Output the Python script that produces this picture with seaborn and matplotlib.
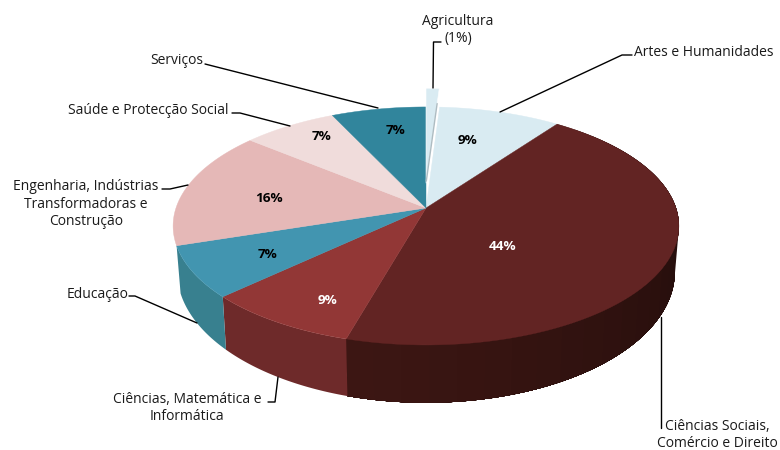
import numpy as np
import matplotlib
matplotlib.use("Agg")
import matplotlib.pyplot as plt
import seaborn as sns

areas = ["Agricultura", "Artes e Humanidades", "Ciências Sociais", "Ciências Matemática",
         "Educação", "Engenharia", "Saúde", "Serviços"]
shares = [1, 9, 44.4, 8.6, 7, 16, 7, 7]
top_colors = ["#d9ebf2", "#d9ebf2", "#622423", "#923736", "#4295b0", "#e5b8b7", "#f0dcdb", "#31859c"]
side_colors = [None, None, "#260e0c", "#6e2a2a", "#38808f", None, None, None]

# percent labels, no label drawn inside the small exploded slice
label_xy = [None, (467, 141), (503, 246), (327, 300), (268, 254), (269, 198), (321, 136), (396, 130)]
label_colors = [None, "black", "white", "white", "black", "black", "black", "black"]

# perspective of the disc, in pixels of the picture
CX, CY = 426, 208
KP = 0.151


def top_face(u, v):
    return CX + 250 * u / (1 + KP * v), CY - 116.3 * v / (1 + KP * v)


def bottom_face(u, v):
    return CX + 246 * u / (1 + KP * v), CY + 44 - 128 * v / (1 + KP * v)


sns.set_theme(style="white")
plt.rcParams["font.family"] = ["Open Sans", "DejaVu Sans"]

fig, ax = plt.subplots(figsize=(7.8, 4.5), dpi=100)
fig.subplots_adjust(0, 0, 1, 1)
ax.set_xlim(0, 780)
ax.set_ylim(450, 0)
ax.axis("off")

edges = np.radians(np.concatenate([[0], np.cumsum(shares)]) * 3.6)

# side wall, only the slices at the front have one
# every step repaints up to the end of the slice so no seams show
for i, col in enumerate(side_colors):
    if col is None:
        continue
    base = np.array(matplotlib.colors.to_rgb(col))
    steps = np.linspace(edges[i], edges[i + 1], 30)
    if i != 2:
        steps = steps[:1]
    for a in steps[:-1] if i == 2 else steps:
        th = np.linspace(a, edges[i + 1], 80)
        x1, y1 = top_face(np.sin(th), np.cos(th))
        x2, y2 = bottom_face(np.sin(th), np.cos(th))
        # the big slice gets darker going right
        shade = 1.0
        if i == 2:
            shade = 1 + 0.65 * np.clip((a - np.radians(100)) / np.radians(100), 0, 1)
        ax.fill(np.r_[x1, x2[::-1]], np.r_[y1, y2[::-1]], color=np.clip(base * shade, 0, 1), lw=0, zorder=2 + i * 0.01)

# top faces
for i in range(1, len(shares)):
    th = np.linspace(edges[i], edges[i + 1], 80)
    x, y = top_face(np.sin(th), np.cos(th))
    ax.fill(np.r_[CX, x], np.r_[CY, y], color=top_colors[i], lw=0.3, zorder=3)

# exploded slice
LIFT = 0.22
th = np.linspace(edges[0], edges[1], 12)
x, y = top_face(np.r_[0, np.sin(th)], np.r_[LIFT, np.cos(th) + LIFT])
ax.fill(x, y, color=top_colors[0], ec="white", lw=0.4, zorder=4)
r = np.array([0.02, 0.82])
gx, gy = top_face(r * np.sin(edges[1]), r * np.cos(edges[1]) + LIFT)
ax.plot(gx, gy, color="#aebcc2", lw=1, zorder=5)

# percent labels
for val, pos, col in zip(shares, label_xy, label_colors):
    if pos is not None:
        ax.text(pos[0], pos[1], f"{val:.0f}%", color=col, fontsize=9.7, fontweight="bold",
                ha="center", va="center", zorder=6)

# leader lines
leaders = [
    [(433, 88), (433.5, 42), (441, 42)],
    [(500, 112), (622, 55), (632, 55)],
    [(205, 64), (378, 108)],
    [(232, 113), (240, 113), (290, 126)],
    [(162, 189), (170, 189), (188, 185)],
    [(129, 296), (135, 296), (197, 323)],
    [(268, 402), (275, 402), (278, 377)],
    [(661, 317), (661, 428)],
]
for pts in leaders:
    ax.plot(*zip(*pts), color="black", lw=1, zorder=7)

names = [
    ("Agricultura\n(1%)", 458, 30, "center"),
    ("Artes e Humanidades", 634, 52, "left"),
    ("Serviços", 203, 61, "right"),
    ("Saúde e Protecção Social", 229, 110, "right"),
    ("Engenharia, Indústrias\nTransformadoras e\nConstrução", 86, 204, "center"),
    ("Educação", 128, 294, "right"),
    ("Ciências, Matemática e\nInformática", 187, 408, "center"),
    ("Ciências Sociais,\nComércio e Direito", 717, 435, "center"),
]
for txt, x, y, ha in names:
    ax.text(x, y, txt, fontsize=10, color="#1a1a1a", ha=ha, va="center", linespacing=1.2, zorder=8)

fig.savefig("out.png", dpi=100)
